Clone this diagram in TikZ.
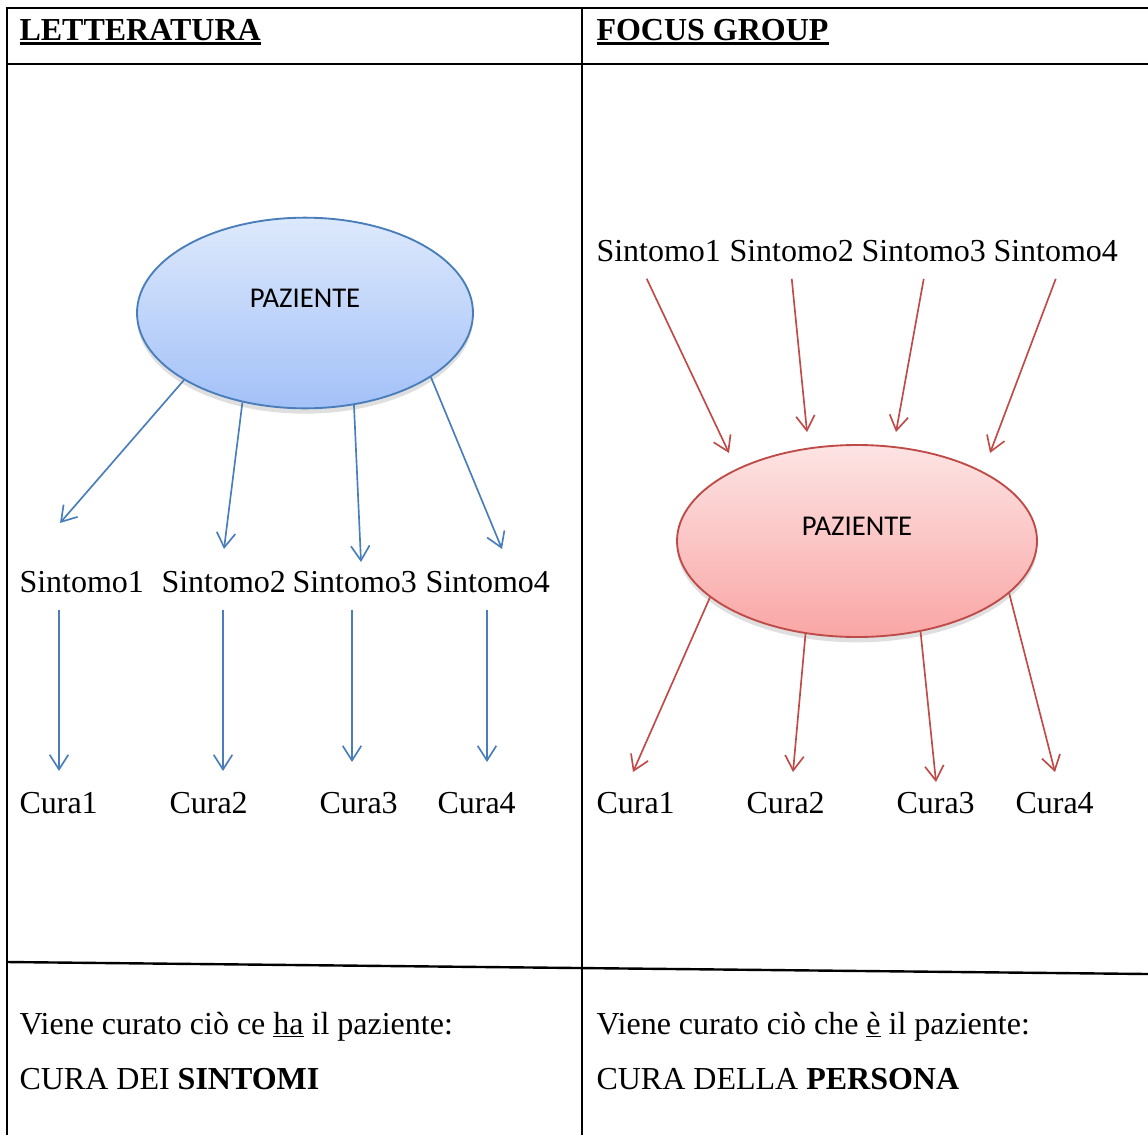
\documentclass[tikz,border=0pt]{standalone}
\usepackage{fontspec}
\setmainfont{Liberation Serif}
\newfontfamily\calibri{Carlito}
\usetikzlibrary{arrows.meta,shapes.geometric,shadows}

\definecolor{bluepen}{RGB}{74,126,187}
\definecolor{bluetop}{RGB}{221,233,252}
\definecolor{bluebot}{RGB}{163,193,248}
\definecolor{redpen}{RGB}{190,75,72}
\definecolor{redtop}{RGB}{253,228,228}
\definecolor{redbot}{RGB}{249,166,165}

\newcommand{\thickul}[1]{\setbox0=\hbox{#1}\rlap{\rule[-4pt]{\wd0}{2.2pt}}\box0}

\tikzset{every picture/.style={line width=0.75pt}}
\tikzset{
  txt/.style={anchor=base west,inner sep=0.75pt,font=\fontsize{24}{28}\selectfont},
  pazlabel/.style={inner sep=0.75pt,font=\calibri\fontsize{21.5}{26}\selectfont},
  rule/.style={line width=1.8pt,black},
  bluearrow/.style={bluepen,line width=1.25pt,-{Straight Barb[length=11pt,width=14pt]}},
  redarrow/.style={redpen,line width=1.25pt,-{Straight Barb[length=11pt,width=14pt]}},
  paz/.style={ellipse,line width=1.4pt,
    drop shadow={opacity=0.25,shadow xshift=0pt,shadow yshift=-4pt}}
}

\begin{document}
\begin{tikzpicture}[x=0.75pt,y=0.75pt,yscale=-1,xscale=1]
        \useasboundingbox (0,0) rectangle (1148,1135);

        %Table Lines
        \draw[rule] (7,1135) -- (7,8) -- (1148,8) ;
        \draw[rule] (7,64) -- (1148,64) ;
        \draw[rule] (582,8) -- (582,1135) ;
        \draw[rule] (7,962) -- (1148,974) ;

        % Headers
        \node (hleft) at (18,40) [txt] {\bfseries\thickul{LETTERATURA}};
        \node (hright) at (595,40) [txt] {\bfseries\thickul{FOCUS GROUP}};

        %Ellipse: left patient
        \node (pazL) at (305,313) [paz,draw=bluepen,top color=bluetop,bottom color=bluebot,
              minimum width=252pt,minimum height=143pt] {};
        \node (pazLtxt) at (305,298) [pazlabel] {PAZIENTE};

        % Text Node: left symptoms
        \node (ls1) at (18,592) [txt] {Sintomo1};
        \node (ls2) at (160,592) [txt] {Sintomo2};
        \node (ls3) at (291,592) [txt] {Sintomo3};
        \node (ls4) at (424,592) [txt] {Sintomo4};

        % Text Node: left cures
        \node (lc1) at (18,813) [txt] {Cura1};
        \node (lc2) at (168,813) [txt] {Cura2};
        \node (lc3) at (318,813) [txt] {Cura3};
        \node (lc4) at (436,813) [txt] {Cura4};

        %Arrow tips
        \coordinate (lt1) at (60,523);
        \coordinate (lt2) at (224,549);
        \coordinate (lt3) at (361,562);
        \coordinate (lt4) at (502,549);
        \coordinate (lv1) at (59,771);
        \coordinate (lv2) at (223,771);
        \coordinate (lv3) at (352,762);
        \coordinate (lv4) at (487,762);

        %Straight Lines: patient to symptoms
        \draw[bluearrow] (pazL.209) -- (lt1) ;
        \draw[bluearrow] (pazL.235) -- (lt2) ;
        \draw[bluearrow] (pazL.298) -- (lt3) ;
        \draw[bluearrow] (pazL.333) -- (lt4) ;

        %Straight Lines: symptoms to cures
        \draw[bluearrow] ([yshift=12pt]ls1.south -| lv1) -- (lv1) ;
        \draw[bluearrow] ([yshift=12pt]ls2.south -| lv2) -- (lv2) ;
        \draw[bluearrow] ([yshift=12pt]ls3.south -| lv3) -- (lv3) ;
        \draw[bluearrow] ([yshift=12pt]ls4.south -| lv4) -- (lv4) ;

        % Text Node: right symptoms
        \node (rs1) at (595,261) [txt] {Sintomo1};
        \node (rs2) at (728,261) [txt] {Sintomo2};
        \node (rs3) at (860,261) [txt] {Sintomo3};
        \node (rs4) at (992,261) [txt] {Sintomo4};

        %Ellipse: right patient
        \node (pazR) at (857,541) [paz,draw=redpen,top color=redtop,bottom color=redbot,
              minimum width=270pt,minimum height=144pt] {};
        \node (pazRtxt) at (857,526) [pazlabel] {PAZIENTE};

        % Text Node: right cures
        \node (rc1) at (595,813) [txt] {Cura1};
        \node (rc2) at (745,813) [txt] {Cura2};
        \node (rc3) at (895,813) [txt] {Cura3};
        \node (rc4) at (1014,813) [txt] {Cura4};

        %Arrow tips
        \coordinate (rt1) at (729,453);
        \coordinate (rt2) at (807,432);
        \coordinate (rt3) at (896,432);
        \coordinate (rt4) at (990,453);
        \coordinate (rv1) at (633,772);
        \coordinate (rv2) at (793,772);
        \coordinate (rv3) at (936,782);
        \coordinate (rv4) at (1055,772);

        %Straight Lines: symptoms to patient
        \draw[redarrow] ([xshift=-9pt,yshift=12pt]rs1.south) -- (rt1) ;
        \draw[redarrow] ([yshift=12pt]rs2.south) -- (rt2) ;
        \draw[redarrow] ([yshift=12pt]rs3.south) -- (rt3) ;
        \draw[redarrow] ([yshift=12pt]rs4.south) -- (rt4) ;

        %Straight Lines: patient to cures
        \draw[redarrow] (pazR.201) -- (rv1) ;
        \draw[redarrow] (pazR.241) -- (rv2) ;
        \draw[redarrow] (pazR.305) -- (rv3) ;
        \draw[redarrow] (pazR.341) -- (rv4) ;

        % Text Node: conclusions
        \node (lnote) at (18,1034) [txt] {Viene curato ciò ce \underline{ha} il paziente:};
        \node (lcura) at (18,1089) [txt] {CURA DEI \textbf{SINTOMI}};
        \node (rnote) at (595,1034) [txt] {Viene curato ciò che \underline{è} il paziente:};
        \node (rcura) at (595,1089) [txt] {CURA DELLA \textbf{PERSONA}};

\end{tikzpicture}
\end{document}
